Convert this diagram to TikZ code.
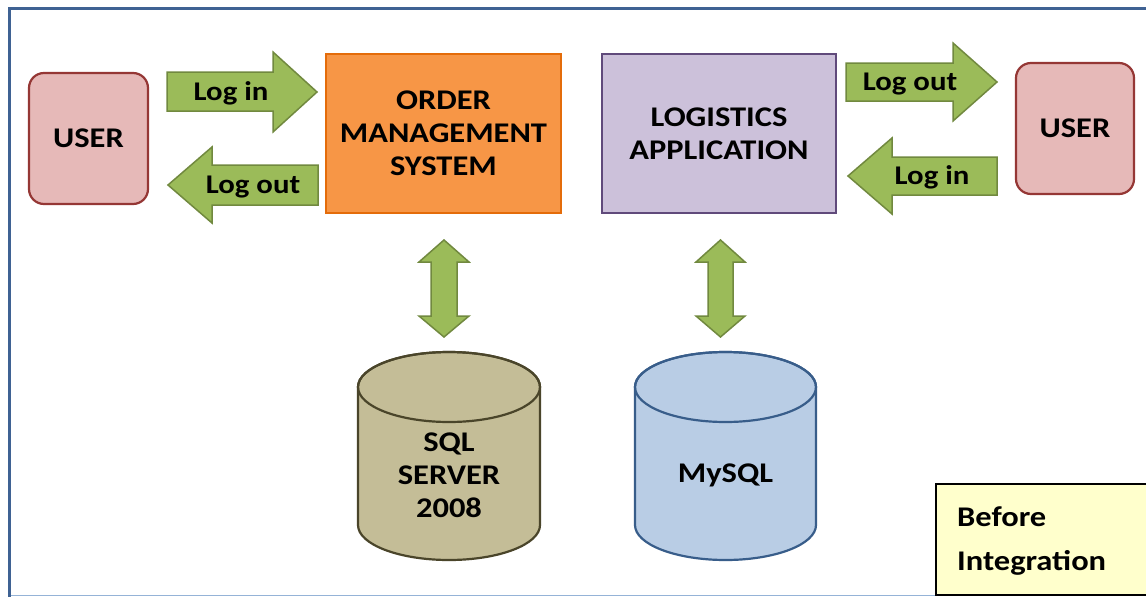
\documentclass[tikz,border=0pt]{standalone}
\usepackage{fontspec}
\setmainfont{Carlito}[FakeStretch=1.14]
\definecolor{framec}{HTML}{3F6293}
\definecolor{framelight}{HTML}{95B3D7}
\definecolor{arrowfill}{HTML}{9BBB59}
\definecolor{arrowdraw}{HTML}{71893F}
\definecolor{userfill}{HTML}{E6B9B8}
\definecolor{userdraw}{HTML}{953735}
\definecolor{omsfill}{HTML}{F79646}
\definecolor{omsdraw}{HTML}{E46C0A}
\definecolor{logfill}{HTML}{CCC1DA}
\definecolor{logdraw}{HTML}{604A7B}
\definecolor{sqlfill}{HTML}{C4BD97}
\definecolor{sqldraw}{HTML}{4A452A}
\definecolor{myfill}{HTML}{B9CDE5}
\definecolor{mydraw}{HTML}{385D8A}
\definecolor{notefill}{HTML}{FFFFCC}
\begin{document}
\begin{tikzpicture}[x=1pt,y=-1pt,
  lbl/.style={font=\bfseries\fontsize{28.5}{33}\selectfont, text=black, inner sep=0pt, align=center},
  arrlbl/.style={lbl, font=\bfseries\fontsize{27}{33}\selectfont, text height=17.4pt, text depth=0pt},
  userbox/.style={lbl, draw=userdraw, fill=userfill, line width=2.2pt, rounded corners=15pt, minimum width=119pt, minimum height=131pt},
  sysbox/.style={lbl, line width=2.2pt, minimum width=235pt, minimum height=159pt},
  blockarrow/.style={fill=arrowfill, draw=arrowdraw, line width=1.5pt, line join=miter},
  cyl/.style={line width=2.2pt}
]
\useasboundingbox (0,0) rectangle (1146,597);
\fill[white] (0,0) rectangle (1146,597);
% frame
\draw[framelight, line width=1.5pt] (9.5,595.5) -- (940,595.5);
\draw[framec, line width=3pt] (9.5,597) -- (9.5,8) -- (1146,8);

% boxes
\node[userbox] (userL) at (88.5,138.5) {USER};
\node[sysbox, draw=omsdraw, fill=omsfill] (oms) at (443.5,133.5) {ORDER\\MANAGEMENT\\SYSTEM};
\node[sysbox, draw=logdraw, fill=logfill, minimum width=234pt] (logi) at (719,133.5) {LOGISTICS\\APPLICATION};
\node[userbox, minimum width=118pt] (userR) at (1075,128.5) {USER};

% horizontal block arrows (left side)
\draw[blockarrow] (167,72) -- (273,72) -- (273,52) -- (317,92) -- (273,132) -- (273,111) -- (167,111) -- cycle;
\node[arrlbl] (loginL) at (231,91.5) {Log in};
\draw[blockarrow] (318,165) -- (212,165) -- (212,147) -- (168,185) -- (212,223) -- (212,205) -- (318,205) -- cycle;
\node[arrlbl] (logoutL) at (253,185) {Log out};

% horizontal block arrows (right side)
\draw[blockarrow] (846,63) -- (953,63) -- (953,43) -- (997,82) -- (953,121) -- (953,101) -- (846,101) -- cycle;
\node[arrlbl] (logoutR) at (910,82) {Log out};
\draw[blockarrow] (997,157) -- (892,157) -- (892,138) -- (848,176) -- (892,214) -- (892,195) -- (997,195) -- cycle;
\node[arrlbl] (loginR) at (932,176) {Log in};

% vertical double arrows
\draw[blockarrow] (444,240) -- (469,262) -- (457,262) -- (457,316) -- (469,316) -- (444,337) -- (419,316) -- (431,316) -- (431,262) -- (419,262) -- cycle;
\draw[blockarrow] (720.5,240) -- (745,262) -- (733,262) -- (733,316) -- (745,316) -- (720.5,337) -- (696,316) -- (708,316) -- (708,262) -- (696,262) -- cycle;

% cylinders
\draw[cyl, draw=sqldraw, fill=sqlfill] (358,387) -- (358,525) arc[start angle=180, end angle=0, x radius=91, y radius=35] -- (540,387) arc[start angle=0, end angle=-180, x radius=91, y radius=35] -- cycle;
\draw[cyl, draw=sqldraw] (449,387) ellipse[x radius=91, y radius=35];
\node[lbl] (sql) at (449,475) {SQL\\SERVER\\2008};

\draw[cyl, draw=mydraw, fill=myfill] (635,387) -- (635,525) arc[start angle=180, end angle=0, x radius=90.5, y radius=35] -- (816,387) arc[start angle=0, end angle=-180, x radius=90.5, y radius=35] -- cycle;
\draw[cyl, draw=mydraw] (725.5,387) ellipse[x radius=90.5, y radius=35];
\node[lbl] (mysql) at (725.5,475) {MySQL};

% note
\draw[fill=notefill, draw=black, line width=1.5pt] (936,484) rectangle (1150,595);
\node[lbl, anchor=base west, align=left] (before) at (957,526) {Before};
\node[lbl, anchor=base west, align=left] (integ) at (957,570) {Integration};
\end{tikzpicture}
\end{document}
